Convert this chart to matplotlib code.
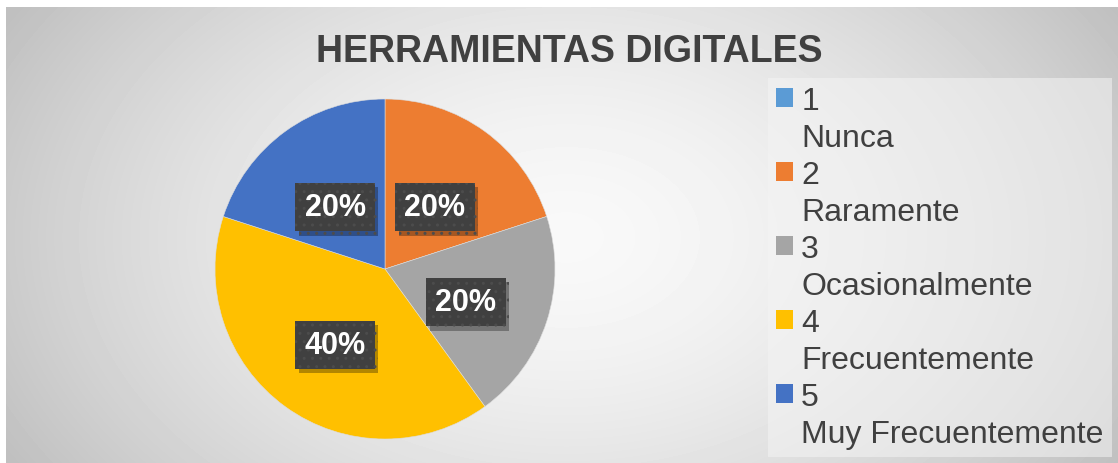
import numpy as np
import matplotlib
matplotlib.use("Agg")
import matplotlib.pyplot as plt
from matplotlib.patches import Patch
from matplotlib.transforms import offset_copy
import matplotlib.patheffects as pe

plt.rcParams['font.family'] = ['Liberation Sans', 'DejaVu Sans']

# data
codes = ["1", "2", "3", "4", "5"]
names = ["Nunca", "Raramente", "Ocasionalmente", "Frecuentemente", "Muy Frecuentemente"]
shares = [0, 20, 20, 40, 20]
colors = ["#5B9BD5", "#ED7D31", "#A5A5A5", "#FFC000", "#4472C4"]

W, H = 1118, 464
fig = plt.figure(figsize=(W / 100, H / 100), dpi=100)
fig.patch.set_facecolor("white")

# radial grey background of the chart area
bg = fig.add_axes([6 / W, 0, 1 - 6 / W, 1 - 8 / H])
yy, xx = np.mgrid[0:456, 0:1112]
d = np.sqrt(((xx - 560) / 620) ** 2 + ((yy - 230) / 420) ** 2)
shade = np.clip(0.975 - 0.21 * d ** 1.6, 0.75, 1)
bg.imshow(shade, cmap="gray", vmin=0, vmax=1, aspect="auto", interpolation="bilinear")
bg.axis("off")

fig.text(569 / W, 1 - 52 / H, "HERRAMIENTAS DIGITALES", ha="center", va="center",
         fontsize=27, fontweight="bold", color="#404040")

# pie
cx, cy, r = 385, 270, 170
ax = fig.add_axes([(cx - r) / W, (H - cy - r) / H, 2 * r / W, 2 * r / H])


def fmt(p):
    return "" if p < 0.5 else "%d%%" % round(p)


wedges, _, autotexts = ax.pie(shares, colors=colors, startangle=90, counterclock=False,
                              autopct=fmt, pctdistance=0.5, radius=1,
                              wedgeprops=dict(linewidth=0.4, edgecolor="#dddddd"))
ax.set_xlim(-1, 1)
ax.set_ylim(-1, 1)
ax.set_aspect("equal")
ax.axis("off")

for t in autotexts:
    t.set_transform(offset_copy(ax.transData, fig=fig, x=0, y=-7, units="dots"))
    t.set_zorder(5)
    t.set_color("white")
    t.set_fontsize(22)
    t.set_fontweight("bold")
    t.set_bbox(dict(boxstyle="square,pad=0.3", facecolor="#404040",
                    edgecolor="#4c4c4c", hatch="..", linewidth=0))
    t.get_bbox_patch().set_path_effects([
        pe.SimplePatchShadow(offset=(2.5, -3), shadow_rgbFace="black", alpha=0.3),
        pe.Normal()])

# legend: code line with a square, name line without
handles, labels = [], []
for code, name, c in zip(codes, names, colors):
    handles.append(Patch(facecolor=c, edgecolor="none"))
    labels.append(code)
    handles.append(Patch(facecolor="none", edgecolor="none"))
    labels.append(name)

leg = fig.legend(handles, labels, loc="upper left", bbox_to_anchor=(768 / W, 1 - 79 / H),
                 fontsize=23, handlelength=0.53, handleheight=0.53, handletextpad=0.26,
                 labelspacing=0.22, borderpad=0.25, borderaxespad=0, frameon=True,
                 fancybox=False)
leg.get_frame().set_facecolor("#f4f4f4")
leg.get_frame().set_alpha(0.55)
leg.get_frame().set_edgecolor("none")
for t in leg.get_texts():
    t.set_color("#404040")

fig.savefig("out.png", dpi=100)
